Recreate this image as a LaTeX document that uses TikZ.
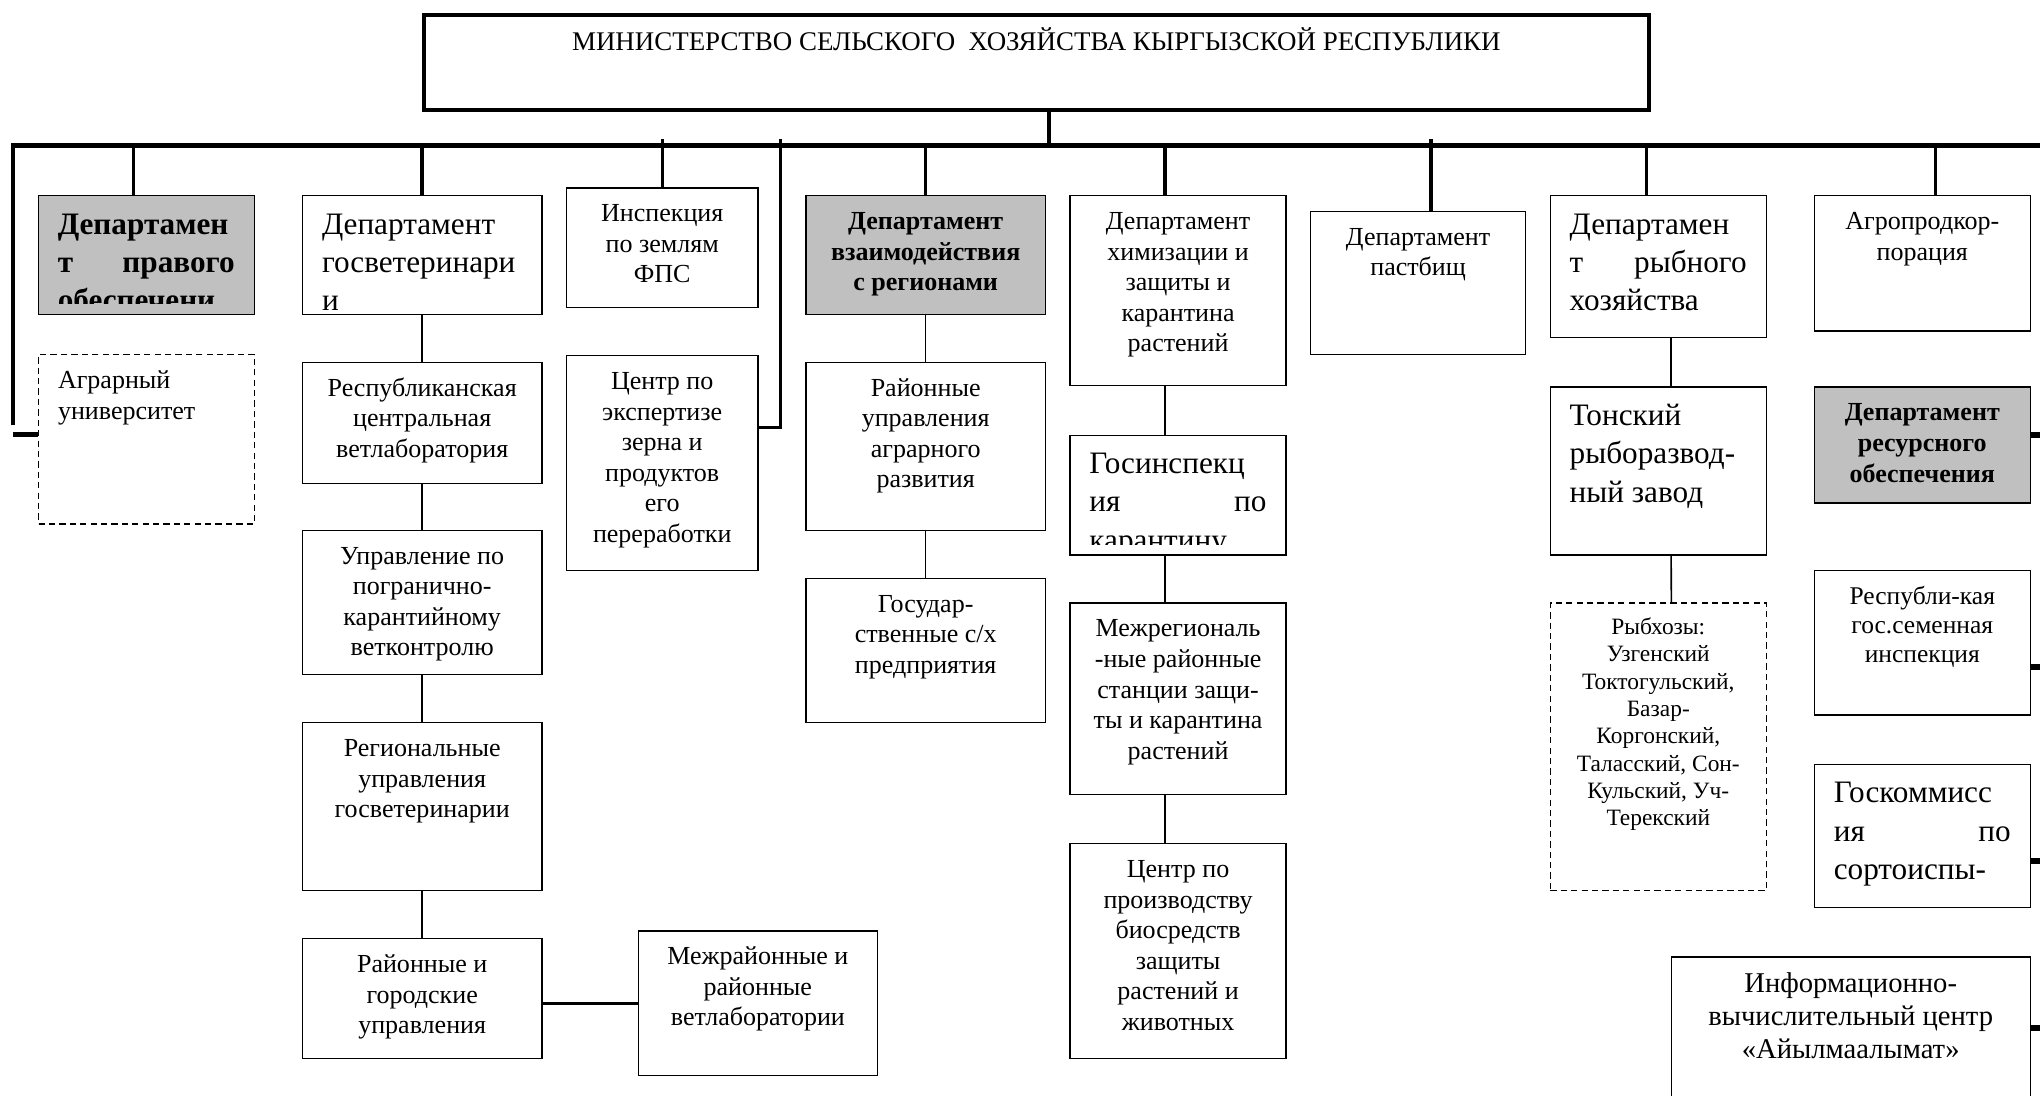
\documentclass[tikz,border=0pt]{standalone}
\usepackage{fontspec}
\setmainfont{Liberation Serif}
\usepackage{tikz}
\usepackage{xcolor}

\definecolor{boxgray}{RGB}{192,192,192}

\newcommand{\txtnorm}{\fontsize{10}{11.75}\selectfont}
\newcommand{\txttitle}{\fontsize{10.35}{12}\selectfont}
\newcommand{\txtbig}{\fontsize{12}{14.75}\selectfont}
\newcommand{\txtsmall}{\fontsize{9}{10.5}\selectfont}
\newcommand{\txtsemi}{\fontsize{9.8}{11.25}\selectfont}
\newcommand{\txtinfo}{\fontsize{11}{12.75}\selectfont}
\newcommand{\orgcell}[5]{\begin{minipage}[t][#2pt][t]{#1pt}\hyphenpenalty=10000 #4\rule{0pt}{#3pt}#5\end{minipage}}

\tikzset{
	orgbox/.style={draw, line width=0.5pt, inner xsep=2pt, inner ysep=0pt, anchor=north west, font=\txtnorm},
	orgleft/.style={orgbox, inner xsep=7.5pt},
	orggray/.style={orgbox, fill=boxgray},
	orgdash/.style={orgbox, line width=0.6pt, dash pattern=on 2.4pt off 1.6pt},
	orgbare/.style={anchor=north west, inner xsep=7.5pt, inner ysep=0pt},
	buswire/.style={line width=1.9pt},
	feedwire/.style={line width=1.3pt},
	linkwire/.style={line width=0.6pt},
	stubwire/.style={line width=2.2pt}
}

\begin{document}
\begin{tikzpicture}[x=0.5pt,y=-0.5pt]
		\useasboundingbox (0,0) rectangle (1568,842);
		\clip (0,0) rectangle (1568,842);

		\node[orgbox, line width=1.6pt, font=\txttitle] (ministry) at (324,10)
			{\orgcell{467}{36.5}{13.75}{\centering}{МИНИСТЕРСТВО СЕЛЬСКОГО~ ХОЗЯЙСТВА КЫРГЫЗСКОЙ РЕСПУБЛИКИ}};

		\coordinate (busL) at (10,112);
		\coordinate (busR) at (1580,112);
		\coordinate (leftdrop) at (10,327);
		\coordinate (leftstub) at (10,334);
		\coordinate (tickline) at (0,107);
		\coordinate (ekspertTick) at (600,107);
		\coordinate (edge) at (1580,0);

		\node[orggray, minimum width=83pt, minimum height=45.5pt] (pravo) at (29,150) {};
		\begin{scope}
			\clip (pravo.north west) rectangle ([yshift=4.25pt]pravo.south east);
			\node[orgbare, font=\txtbig\bfseries] (pravotext) at (pravo.north west)
				{\orgcell{68}{45.5}{14.75}{\raggedright}{Департамен\\т\hfill правого\\обеспечени}};
		\end{scope}
		\node[orgdash, inner xsep=7.5pt] (agrar) at (29,272)
			{\orgcell{68}{65}{13}{\raggedright}{Аграрный\\университет}};

		\node[orgleft, font=\txtbig] (gosvet) at (232,150)
			{\orgcell{77}{45.5}{14.75}{\raggedright}{Департамент\\госветеринари\\и}};
		\node[orgbox] (vetlab) at (232,278)
			{\orgcell{88}{46.5}{13}{\centering}{Республиканская\\центральная\\ветлаборатория}};
		\node[orgbox] (pogran) at (232,407)
			{\orgcell{88}{55.5}{13}{\centering}{Управление по\\погранично-\\карантийному\\ветконтролю}};
		\node[orgbox] (region) at (232,555)
			{\orgcell{88}{64.5}{13}{\centering}{Региональные\\управления\\госветеринарии}};
		\node[orgbox] (rayon) at (232,721)
			{\orgcell{88}{46}{13}{\centering}{Районные и\\городские\\управления}};
		\node[orgbox] (mezhrayon) at (490,715)
			{\orgcell{88}{55.5}{13}{\centering}{Межрайонные и\\районные\\ветлаборатории}};

		\node[orgbox] (inspek) at (435,144)
			{\orgcell{69.5}{46}{13}{\centering}{Инспекция\\по землям\\ФПС}};
		\node[orgbox] (ekspert) at (435,273)
			{\orgcell{69.5}{82.5}{13}{\centering}{Центр по\\экспертизе\\зерна и\\продуктов\\его\\переработки}};

		\node[orggray, font=\txtnorm\bfseries] (vzaimo) at (619,150)
			{\orgcell{88}{45.5}{13}{\centering}{Департамент\\взаимодействия\\с регионами}};
		\node[orgbox] (agrarrazv) at (619,278)
			{\orgcell{88}{64.5}{13}{\centering}{Районные\\управления\\аграрного\\развития}};
		\node[orgbox] (gospred) at (619,444)
			{\orgcell{88}{55.5}{13}{\centering}{Государ-\\ственные с/х\\предприятия}};

		\node[orgbox] (khimiz) at (822,150)
			{\orgcell{79}{73}{13}{\centering}{Департамент\\химизации и\\защиты и\\карантина\\растений}};
		\node[orgbox, minimum width=83pt, minimum height=46pt] (goskarant) at (822,334) {};
		\begin{scope}
			\clip (goskarant.north west) rectangle ([yshift=4.25pt]goskarant.south east);
			\node[orgbare, font=\txtbig] (goskaranttext) at (goskarant.north west)
				{\orgcell{68}{46}{14.75}{\raggedright}{Госинспекц\\ия\hfill по\\карантину}};
		\end{scope}
		\node[orgbox] (mezhreg) at (822,463)
			{\orgcell{79}{73.5}{13}{\centering}{Межрегиональ\\-ные районные\\станции защи-\\ты и карантина\\растений}};
		\node[orgbox] (biosred) at (822,648)
			{\orgcell{79}{82.5}{13}{\centering}{Центр по\\производству\\биосредств\\защиты\\растений и\\животных}};

		\node[orgbox] (pastbish) at (1007,162)
			{\orgcell{78.5}{55}{13}{\centering}{Департамент\\пастбищ}};

		\node[orgleft, font=\txtbig] (rybnoe) at (1191,150)
			{\orgcell{68}{54.5}{14.75}{\raggedright}{Департамен\\т\hfill рыбного\\хозяйства}};
		\node[orgleft, font=\txtbig] (tonsk) at (1191,297)
			{\orgcell{68}{64.5}{14.75}{\raggedright}{Тонский\\рыборазвод-\\ный завод}};
		\node[orgdash, font=\txtsmall] (rybkhoz) at (1191,463)
			{\orgcell{79}{110.5}{12}{\centering}{Рыбхозы:\\Узгенский\\Токтогульский,\\Базар-\\Коргонский,\\Таласский, Сон-\\Кульский, Уч-\\Терекский}};

		\node[orgbox] (agroprod) at (1394,150)
			{\orgcell{79}{52}{13}{\centering}{Агропродкор-\\порация}};
		\node[orggray, font=\txtnorm\bfseries] (resurs) at (1394,297)
			{\orgcell{79}{44.5}{13}{\centering}{Департамент\\ресурсного\\обеспечения}};
		\node[orgbox, font=\txtsemi] (semen) at (1394,438)
			{\orgcell{79}{55.5}{13}{\centering}{Республи-кая\\гос.семенная\\инспекция}};
		\node[orgleft, font=\txtbig] (sortoisp) at (1394,587)
			{\orgcell{68}{55}{14.75}{\raggedright}{Госкоммисс\\ия\hfill по\\сортоиспы-}};
		\node[orgbox, font=\txtinfo] (aiyl) at (1284,735)
			{\orgcell{134}{65}{13.5}{\centering}{Информационно-\\вычислительный центр\\«Айылмаалымат»}};

		\draw[buswire] (leftdrop) -- (busL) -- (busR);
		\draw[stubwire] (leftstub) -- (leftstub -| agrar.west);
		\draw[feedwire, line width=1.5pt] ([xshift=5pt]ministry.south) -- ([xshift=5pt]ministry.south |- busL);
		\draw[feedwire] ([xshift=-5pt]pravo.north) -- ([xshift=-5pt]pravo.north |- busL);
		\draw[feedwire] (gosvet.north) -- (gosvet.north |- busL);
		\draw[feedwire] (inspek.north) -- (inspek.north |- tickline);
		\draw[feedwire] (ekspertTick) |- ([yshift=13.75pt]ekspert.east);
		\draw[feedwire] (vzaimo.north) -- (vzaimo.north |- busL);
		\draw[feedwire] ([xshift=-5pt]khimiz.north) -- ([xshift=-5pt]khimiz.north |- busL);
		\draw[feedwire] ([xshift=5pt]pastbish.north) -- ([xshift=5pt]pastbish.north |- tickline);
		\draw[feedwire] ([xshift=-4.5pt]rybnoe.north) -- ([xshift=-4.5pt]rybnoe.north |- busL);
		\draw[feedwire] ([xshift=5pt]agroprod.north) -- ([xshift=5pt]agroprod.north |- busL);

		\draw[linkwire] (gosvet.south) -- (vetlab.north);
		\draw[linkwire] (vetlab.south) -- (pogran.north);
		\draw[linkwire] (pogran.south) -- (region.north);
		\draw[linkwire] (region.south) -- (rayon.north);
		\draw[linkwire, line width=1.1pt] (rayon.east |- mezhrayon.west) -- (mezhrayon.west);
		\draw[linkwire] (vzaimo.south) -- (agrarrazv.north);
		\draw[linkwire] (agrarrazv.south) -- (gospred.north);
		\draw[linkwire] ([xshift=-5pt]khimiz.south) -- ([xshift=-5pt]goskarant.north);
		\draw[linkwire] ([xshift=-5pt]goskarant.south) -- ([xshift=-5pt]mezhreg.north);
		\draw[linkwire] ([xshift=-5pt]mezhreg.south) -- ([xshift=-5pt]biosred.north);
		\draw[linkwire] ([xshift=5pt]rybnoe.south) -- ([xshift=5pt]tonsk.north);
		\draw[linkwire] ([xshift=5pt]tonsk.south) -- ([xshift=5pt]rybkhoz.north);

		\draw[stubwire] ([yshift=3.75pt]resurs.east) -- ([yshift=3.75pt]resurs.east -| edge);
		\draw[stubwire] ([yshift=-9.25pt]semen.east) -- ([yshift=-9.25pt]semen.east -| edge);
		\draw[stubwire] ([yshift=-9.5pt]sortoisp.east) -- ([yshift=-9.5pt]sortoisp.east -| edge);
		\draw[stubwire] ([yshift=-27.5pt]aiyl.north east) -- ([yshift=-27.5pt]aiyl.north east -| edge);
\end{tikzpicture}
\end{document}
